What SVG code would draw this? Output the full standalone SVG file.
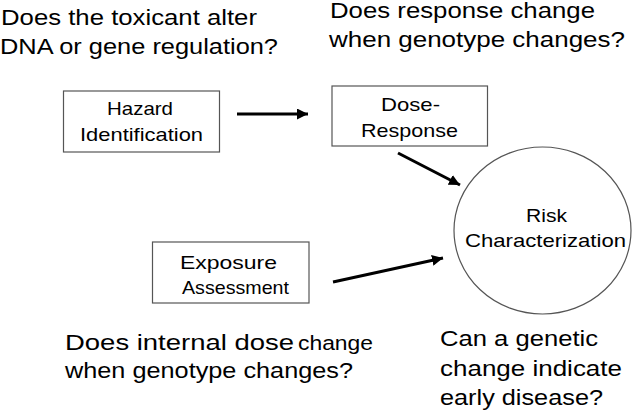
<svg xmlns="http://www.w3.org/2000/svg" width="633" height="411" viewBox="0 0 633 411">
<defs>
<style>
text{font-family:"Liberation Sans",Arial,sans-serif;fill:#000}
.q{font-size:21.5px}
.b{font-size:19px}
.box{fill:#fff;stroke:#555;stroke-width:1.2}
.conn{stroke:#000;stroke-width:3;fill:none}
</style>
<marker id="ah" markerUnits="userSpaceOnUse" markerWidth="12" markerHeight="11" refX="11" refY="5.5" orient="auto">
<path d="M0,0 L11,5.5 L0,11 Z" fill="#000"/>
</marker>
</defs>
<rect width="633" height="411" fill="#fff"/>
<g id="q-hazard">
<text class="q"><tspan x="1" y="25" textLength="256" lengthAdjust="spacingAndGlyphs">Does the toxicant alter</tspan><tspan x="0" y="54" textLength="278" lengthAdjust="spacingAndGlyphs">DNA or gene regulation?</tspan></text>
</g>
<g id="q-dose">
<text class="q"><tspan x="330" y="18" textLength="265" lengthAdjust="spacingAndGlyphs">Does response change</tspan><tspan x="329" y="46.5" textLength="296" lengthAdjust="spacingAndGlyphs">when genotype changes?</tspan></text>
</g>
<g id="q-exposure">
<text class="q"><tspan x="65" y="349.5" font-size="22" textLength="229" lengthAdjust="spacingAndGlyphs">Does internal dose</tspan><tspan x="298" y="349.5" font-size="20.5" textLength="75" lengthAdjust="spacingAndGlyphs">change</tspan><tspan x="65" y="378" textLength="288" lengthAdjust="spacingAndGlyphs">when genotype changes?</tspan></text>
</g>
<g id="q-risk">
<text class="q"><tspan x="440" y="346" textLength="158" lengthAdjust="spacingAndGlyphs">Can a genetic</tspan><tspan x="440" y="376" textLength="182" lengthAdjust="spacingAndGlyphs">change indicate</tspan><tspan x="440" y="405" textLength="163" lengthAdjust="spacingAndGlyphs">early disease?</tspan></text>
</g>
<g id="hazard">
<rect class="box" x="63.5" y="91" width="156" height="61"/>
<text class="b"><tspan x="107" y="115" textLength="66" lengthAdjust="spacingAndGlyphs">Hazard</tspan><tspan x="80" y="141" textLength="123" lengthAdjust="spacingAndGlyphs">Identification</tspan></text>
</g>
<g id="dose">
<rect class="box" x="332" y="86" width="155.5" height="60"/>
<text class="b"><tspan x="381" y="111" textLength="59" lengthAdjust="spacingAndGlyphs">Dose-</tspan><tspan x="361" y="137" textLength="97" lengthAdjust="spacingAndGlyphs">Response</tspan></text>
</g>
<g id="exposure">
<rect class="box" x="152.5" y="242" width="156.5" height="61"/>
<text class="b"><tspan x="180" y="269" textLength="97" lengthAdjust="spacingAndGlyphs">Exposure</tspan><tspan x="182" y="294" textLength="107" lengthAdjust="spacingAndGlyphs">Assessment</tspan></text>
</g>
<g id="risk">
<ellipse class="box" cx="542.5" cy="230.5" rx="88.5" ry="83.5"/>
<text class="b"><tspan x="526" y="222" textLength="41" lengthAdjust="spacingAndGlyphs">Risk</tspan><tspan x="465" y="247" textLength="161" lengthAdjust="spacingAndGlyphs">Characterization</tspan></text>
</g>
<g id="connectors">
<line class="conn" x1="237" y1="114" x2="308" y2="114" marker-end="url(#ah)"/>
<line class="conn" x1="398" y1="153" x2="460" y2="185" marker-end="url(#ah)"/>
<line class="conn" x1="333" y1="282" x2="443" y2="258" marker-end="url(#ah)"/>
</g>
</svg>
